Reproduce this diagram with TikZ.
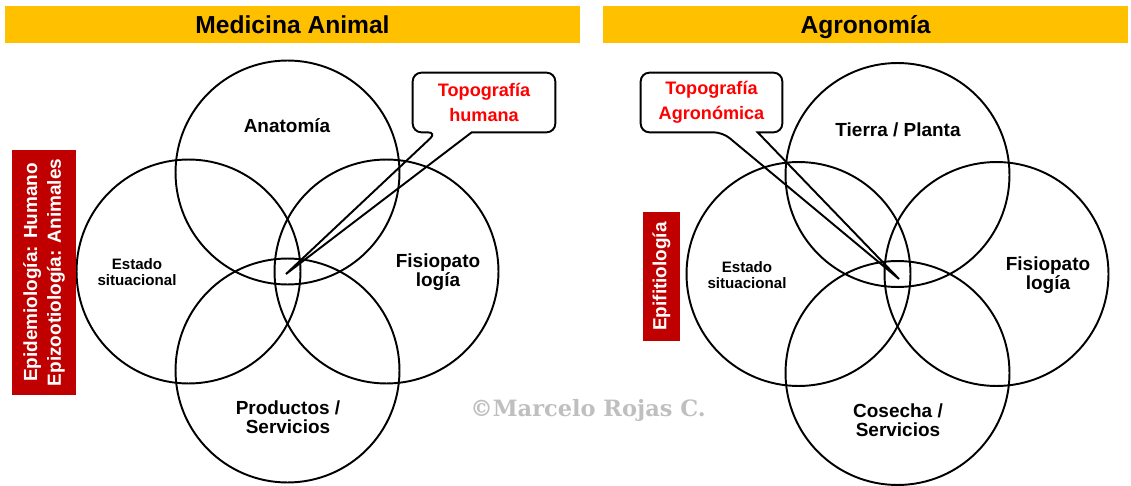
\documentclass[tikz,border=0pt]{standalone}
\usepackage{fontspec}
\setmainfont{Liberation Sans}
\newfontfamily\markfont{DejaVu Serif}
\usetikzlibrary{calc}
\definecolor{barYellow}{HTML}{FFC000}
\definecolor{boxRed}{HTML}{C00000}

\begin{document}
\begin{tikzpicture}[x=0.02cm, y=-0.02cm,
        bar/.style={fill=barYellow, minimum height=0.74cm, inner sep=0pt, text height=12pt, text depth=2pt, font=\bfseries\fontsize{14}{16}\selectfont},
        ring/.style={draw, circle, line width=1.1pt, minimum size=4.48cm, inner sep=0pt},
        lbl/.style={align=center, inner sep=0pt, font=\bfseries\fontsize{10.8}{11}\selectfont},
        lblsmall/.style={align=center, inner sep=0pt, font=\bfseries\fontsize{8.6}{8.8}\selectfont},
        redbox/.style={fill=boxRed, text=white, rotate=90, align=center, inner sep=0pt, font=\bfseries\fontsize{10.8}{13.6}\selectfont},
        callout/.style={text=red, align=center, inner sep=0pt, font=\bfseries\fontsize{10.3}{14.2}\selectfont},
        outline/.style={line width=1.1pt}]
        \useasboundingbox (0,0) rectangle (1131,486);

        \node[bar, minimum width=11.5cm] (hdrMed) at (292.5,24.5) {Medicina Animal};
        \node[bar, minimum width=10.5cm] (hdrAgr) at (865.5,24.5) {Agronomía};

        \node[ring] (anatomia) at (287.5,172.5) {};
        \node[ring] (estadoMed) at (188.5,271.5) {};
        \node[ring] (fisioMed) at (386.5,271.5) {};
        \node[ring] (productos) at (287.5,370.5) {};

        \node[lbl] at (287,126) {Anatomía};
        \node[lblsmall] at (137,272) {Estado\\situacional};
        \node[lbl] at (438,272) {Fisiopato\\logía};
        \node[lbl] at (288,417) {Productos /\\Servicios};

        \node[ring] (tierra) at (897.5,175) {};
        \node[ring] (estadoAgr) at (798.5,274) {};
        \node[ring] (fisioAgr) at (996.5,274) {};
        \node[ring] (cosecha) at (897.5,373) {};

        \node[lbl] at (898,130) {Tierra / Planta};
        \node[lblsmall] at (747,275) {Estado\\situacional};
        \node[lbl] at (1048,275) {Fisiopato\\logía};
        \node[lbl] at (898,420) {Cosecha /\\Servicios};

        \node[redbox, minimum width=4.9cm, minimum height=1.28cm] (epiMed) at (44,272.5) {Epidemiología: Humano\\Epizootiología: Animales};
        \node[redbox, minimum width=2.58cm, minimum height=0.74cm] (epiAgr) at (661.5,276.5) {Epifitiología};

        \node[callout, minimum width=2.84cm, minimum height=1.18cm] (topoMed) at (484,102.5) {Topografía\\humana};
        \node[callout, minimum width=2.82cm, minimum height=1.18cm] (topoAgr) at (711.5,102.5) {Topografía\\Agronómica};
        \coordinate (tipMed) at (286,274);
        \coordinate (tipAgr) at (899,279);

        \draw[outline, rounded corners=5pt] ($(topoMed.south west)+(59,0)$) -- (topoMed.south east) -- (topoMed.north east) -- (topoMed.north west) -- (topoMed.south west) -- ($(topoMed.south west)+(24,0)$) [sharp corners] -- (tipMed) -- cycle;
        \draw[outline, rounded corners=5pt] ($(topoAgr.south west)+(117,0)$) -- (topoAgr.south east) -- (topoAgr.north east) -- (topoAgr.north west) -- (topoAgr.south west) -- ($(topoAgr.south west)+(82,0)$) [sharp corners] -- (tipAgr) -- cycle;

        \node[text=black!25, font=\markfont\bfseries\fontsize{12.8}{14}\selectfont] (firma) at (588,410) {©Marcelo Rojas C.};
\end{tikzpicture}
\end{document}
